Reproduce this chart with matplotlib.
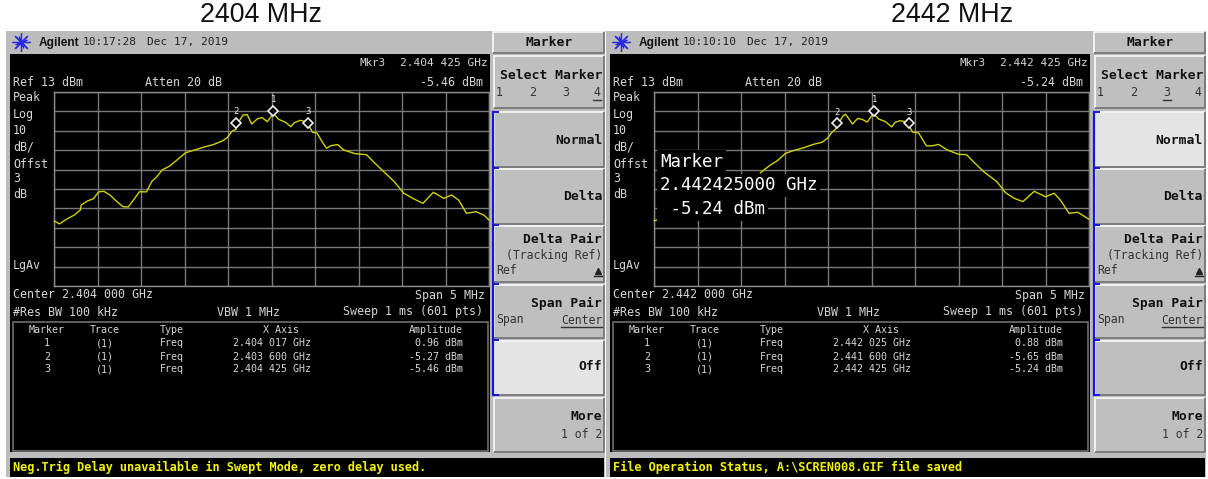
import numpy as np
import matplotlib
matplotlib.use("Agg")
import matplotlib.pyplot as plt
from matplotlib.patches import Rectangle

W, H = 1208, 479

# ---- data: frequency offset from centre (MHz), displayed level (dB) ----
freq_a = [-2.50,-2.44,-2.36,-2.27,-2.20,-2.19,-2.12,-2.05,-1.99,-1.93,-1.86,-1.78,-1.71,-1.65,-1.59,-1.52,-1.44,-1.38,-1.32,-1.26,-1.17,-1.09,-0.99,-0.90,-0.78,-0.67,-0.57,-0.51,-0.46,-0.41,-0.37,-0.33,-0.28,-0.23,-0.16,-0.11,-0.05,0.02,0.08,0.16,0.22,0.26,0.33,0.39,0.43,0.47,0.52,0.58,0.63,0.68,0.76,0.83,0.96,1.09,1.19,1.29,1.41,1.52,1.64,1.74,1.86,1.98,2.07,2.15,2.24,2.35,2.44,2.50]
level_a = [-53.5,-55.0,-52.6,-50.4,-47.8,-45.2,-43.2,-42.0,-38.5,-38.2,-40.1,-43.5,-46.1,-46.3,-42.7,-38.4,-38.5,-33.2,-30.6,-27.2,-25.1,-22.1,-18.3,-17.1,-15.4,-14.1,-12.3,-10.5,-7.4,-6.2,-1.8,1.1,1.3,-3.5,-0.7,-0.2,-2.3,2.0,-1.1,-2.6,-4.9,-2.8,-1.6,-2.3,-4.5,-7.8,-8.1,-12.6,-16.0,-14.7,-14.1,-16.9,-18.8,-19.3,-23.8,-28.1,-33.2,-39.2,-42.2,-44.4,-38.7,-41.8,-40.1,-42.7,-49.5,-48.7,-50.4,-53.0]
# second trace is hidden by the marker read-out between the two stretches
freq_b = [-2.50,-2.44,np.nan,-1.28,-1.17,-1.09,-0.99,-0.90,-0.78,-0.67,-0.57,-0.51,-0.46,-0.41,-0.37,-0.33,-0.30,-0.22,-0.16,-0.11,-0.05,0.02,0.08,0.16,0.23,0.27,0.33,0.39,0.43,0.47,0.54,0.63,0.70,0.77,0.87,1.00,1.09,1.19,1.29,1.44,1.54,1.64,1.74,1.87,2.00,2.10,2.17,2.27,2.37,2.44,2.50]
level_b = [-53.3,-52.8,np.nan,-28.6,-24.8,-22.6,-18.6,-17.2,-15.7,-14.0,-12.9,-10.9,-8.0,-5.9,-2.3,0.6,1.5,-3.5,-0.6,-1.1,-2.5,2.0,-0.9,-2.3,-5.0,-2.6,-1.8,-2.3,-4.5,-7.6,-8.1,-14.8,-14.7,-14.0,-16.9,-19.1,-19.3,-23.8,-28.1,-33.2,-38.9,-41.8,-43.5,-38.2,-41.0,-39.2,-42.7,-49.5,-49.0,-50.9,-52.6]
marker_freq_a = [0.02, -0.41, 0.42]
marker_level_a = [3.4, -2.8, -2.8]
marker_freq_b = [0.03, -0.40, 0.43]
marker_level_b = [3.4, -3.2, -3.0]
marker_names = ["1", "2", "3"]

titles = ["2404 MHz", "2442 MHz"]
clock = ["10:17:28", "10:10:10"]
mkr_freq = ["2.404 425 GHz", "2.442 425 GHz"]
mkr_amp = ["-5.46 dBm", "-5.24 dBm"]
centers = ["Center 2.404 000 GHz", "Center 2.442 000 GHz"]
table_x = [["2.404 017 GHz", "2.403 600 GHz", "2.404 425 GHz"],
           ["2.442 025 GHz", "2.441 600 GHz", "2.442 425 GHz"]]
table_amp = [["0.96 dBm", "-5.27 dBm", "-5.46 dBm"],
             ["0.88 dBm", "-5.65 dBm", "-5.24 dBm"]]
status = ["Neg.Trig Delay unavailable in Swept Mode, zero delay used.",
          "File Operation Status, A:\\SCREN008.GIF file saved"]
selected_digit = [3, 2]      # underlined digit index in "Select Marker"
lit_key = [5, 1]             # highlighted soft key index
readout = ["Marker", "2.442425000 GHz", " -5.24 dBm"]

MONO = "DejaVu Sans Mono"
SCREEN = "#d6d6d6"
GRAY = "#bcbcbc"
KEY = "#bfbfbf"
LIT = "#e4e4e4"

fig = plt.figure(figsize=(W / 100, H / 100), dpi=100, facecolor="white")
bg = fig.add_axes([0, 0, 1, 1], zorder=1)
bg.set_xlim(0, W)
bg.set_ylim(H, 0)
bg.axis("off")


def txt(x, y, s, size=8.4, color=SCREEN, ha="left", weight="normal", family=MONO, **kw):
    return bg.text(x, y, s, fontsize=size, color=color, ha=ha, va="center",
                   fontweight=weight, family=family, **kw)


def rect(x0, y0, x1, y1, fc, ec="none", lw=0.0, z=1):
    bg.add_patch(Rectangle((x0, y0), x1 - x0, y1 - y0, fc=fc, ec=ec, lw=lw, zorder=z))


def softkey(x0, y0, x1, y1, lit=False):
    rect(x0, y0, x1, y1, LIT if lit else KEY, z=2)
    bg.plot([x0, x0, x1], [y1, y0, y0], color="#f2f2f2", lw=1.4, zorder=3, solid_capstyle="butt")
    bg.plot([x0, x1, x1], [y1, y1, y0], color="#7c7c7c", lw=1.4, zorder=3, solid_capstyle="butt")


def panel(i, dx, kdx, tx, freq, level, mf, ml):
    txt(tx, 15, titles[i], size=19.3, color="#111111", ha="center", family="Liberation Sans")
    rect(6 + dx, 31, 604.5 + kdx, 477, GRAY)
    rect(10 + dx, 54, 490 + dx, 452, "#000000", z=2)

    # header
    bg.plot([21 + dx], [42], marker=(8, 2, 0), ms=13, mew=0.9, color="#2a2ae0", zorder=3)
    bg.plot([21 + dx], [42], marker=(4, 2, 22), ms=9, mew=0.8, color="#2a2ae0", zorder=3)
    txt(39 + dx, 42.5, "Agilent", size=8.6, color="#111111", weight="bold", family="Liberation Sans")
    txt(83 + dx, 42, clock[i], size=8.0, color="#222222")
    txt(147 + dx, 42, "Dec 17, 2019", size=8.0, color="#222222")

    # screen text
    txt(359 + dx, 63, "Mkr3", size=7.8)
    txt(488 + dx, 63, mkr_freq[i], ha="right", size=8.0)
    txt(13 + dx, 82, "Ref 13 dBm")
    txt(145 + dx, 82, "Atten 20 dB")
    txt(483 + dx, 82, mkr_amp[i], ha="right")
    for y, s in zip([97, 114, 131, 147, 164, 179, 194, 266],
                    ["Peak", "Log", "10", "dB/", "Offst", "3", "dB", "LgAv"]):
        txt(13 + dx, y, s)
    txt(13 + dx, 295, centers[i])
    txt(485 + dx, 295, "Span 5 MHz", ha="right")
    txt(13 + dx, 312, "#Res BW 100 kHz")
    txt(217 + dx, 312, "VBW 1 MHz")
    txt(483 + dx, 312, "Sweep 1 ms (601 pts)", ha="right")

    # marker table
    bg.add_patch(Rectangle((13 + dx, 322), 475, 129, fc="none", ec="#6e6e6e", lw=1.2, zorder=3))
    ts = 7.2
    txt(47 + dx, 330, "Marker", size=ts, ha="center")
    txt(105 + dx, 330, "Trace", size=ts, ha="center")
    txt(172 + dx, 330, "Type", size=ts, ha="center")
    txt(281 + dx, 330, "X Axis", size=ts, ha="center")
    txt(463 + dx, 330, "Amplitude", size=ts, ha="right")
    for r, y in enumerate([343.5, 356.5, 369.5]):
        txt(47 + dx, y, marker_names[r], size=ts, ha="center")
        txt(105 + dx, y, "(1)", size=ts, ha="center")
        txt(172 + dx, y, "Freq", size=ts, ha="center")
        txt(272 + dx, y, table_x[i][r], size=ts, ha="center")
        txt(463 + dx, y, table_amp[i][r], size=ts, ha="right")

    # status bar
    rect(10 + dx, 458, 604 + kdx, 477, "#000000", z=2)
    txt(13 + dx, 467.5, status[i], color="#f4f400", weight="bold", size=8.6)

    # soft keys
    softkey(493 + kdx, 32, 604 + kdx, 53)
    keys = [(56, 108), (112, 167), (169, 224), (226, 282), (285, 338), (341, 395), (398, 452)]
    for k, (a, b) in enumerate(keys):
        softkey(494 + kdx, a, 604 + kdx, b, lit=(k == lit_key[i]))
    bg.plot([492.5 + kdx] * 2, [112, 395], color="#1414e6", lw=1.6, zorder=4)
    for y in [112, 168, 225, 283.5, 340, 395]:
        bg.plot([492.5 + kdx, 498 + kdx], [y, y], color="#1414e6", lw=1.4, zorder=4)

    R = 602 + kdx
    K = "#111111"
    bs = 9.4
    txt(549 + kdx, 42.5, "Marker", size=bs, color=K, ha="center", weight="bold")
    txt(R, 75, "Select Marker", size=bs, color=K, ha="right", weight="bold")
    for n, x in enumerate([499, 533, 566, 597]):
        txt(x + kdx, 92, str(n + 1), color="#333333", ha="center", size=8.4)
        if n == selected_digit[i]:
            bg.plot([x + kdx - 4, x + kdx + 4], [99.5, 99.5], color="#333333", lw=1, zorder=4)
    txt(R, 140, "Normal", size=bs, color=K, ha="right", weight="bold")
    txt(R, 196, "Delta", size=bs, color=K, ha="right", weight="bold")
    txt(R, 239, "Delta Pair", size=bs, color=K, ha="right", weight="bold")
    txt(R, 255, "(Tracking Ref)", color="#333333", ha="right", size=8.3)
    txt(496 + kdx, 270, "Ref", color="#333333", size=8.3)
    bg.plot([R - 4], [271], marker="^", ms=4.5, color="#222222", zorder=4)
    bg.plot([R - 8, R], [276, 276], color="#222222", lw=1, zorder=4)
    txt(R, 303, "Span Pair", size=bs, color=K, ha="right", weight="bold")
    txt(496 + kdx, 320, "Span", color="#333333", size=8.3)
    txt(R, 320, "Center", color="#333333", ha="right", size=8.3)
    bg.plot([R - 41, R], [327, 327], color="#333333", lw=1, zorder=4)
    txt(R, 367, "Off", size=bs, color=K, ha="right", weight="bold")
    txt(R, 417, "More", size=bs, color=K, ha="right", weight="bold")
    txt(R, 434, "1 of 2", color="#333333", ha="right", size=8.3)

    # trace graticule
    ax = fig.add_axes([(54.3 + dx) / W, 1 - 286 / H, 434.7 / W, 194 / H], zorder=2)
    ax.set_facecolor("#000000")
    ax.set_xlim(-2.5, 2.5)
    ax.set_ylim(-87, 13)
    ax.set_xticks(np.arange(-2.5, 2.51, 0.5))
    ax.set_yticks(np.arange(-87, 13.1, 10))
    ax.tick_params(length=0, labelbottom=False, labelleft=False)
    ax.grid(True, color="#7a7a7a", lw=1)
    ax.set_axisbelow(True)
    for sp in ax.spines.values():
        sp.set_color("#8a8a8a")
        sp.set_linewidth(1)
    ax.plot(freq, level, color="#d2d200", lw=1.0, clip_on=False, zorder=3)
    ax.plot(mf, ml, ls="none", marker="D", ms=4.6, mfc="#000000", mec="#f0f0f0", mew=1.2, zorder=4)
    for f, l, n in zip(mf, ml, marker_names):
        ax.annotate(n, (f, l), xytext=(0, 7.8), textcoords="offset points", ha="center",
                    va="center", fontsize=6.5, color="#e8e8e8", family=MONO, zorder=5)
    return ax


ax_a = panel(0, 0, 0, 261, freq_a, level_a, marker_freq_a, marker_level_a)
ax_b = panel(1, 600, 601, 952, freq_b, level_b, marker_freq_b, marker_level_b)

# large marker read-out over the second trace
for s, y in zip(readout, [162, 185.5, 209]):
    ax_b.text(660, y, s, transform=bg.transData, fontsize=12.6, family=MONO, color="#ffffff",
              ha="left", va="center", zorder=10,
              bbox=dict(fc="#000000", ec="none", pad=2.0))

fig.savefig("out.png", dpi=100, facecolor="white")
